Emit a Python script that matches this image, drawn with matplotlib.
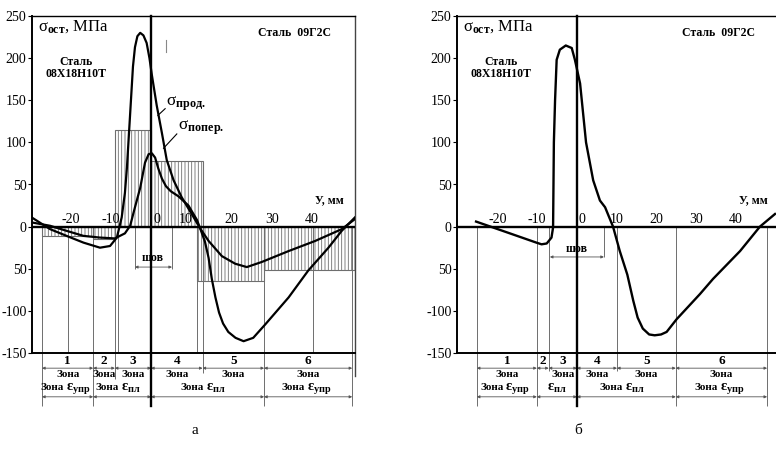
import numpy as np
import matplotlib
matplotlib.use('Agg')
import matplotlib.pyplot as plt

plt.rcParams['font.family'] = ['Liberation Serif', 'DejaVu Serif']
plt.rcParams['mathtext.fontset'] = 'custom'
plt.rcParams['mathtext.rm'] = 'Liberation Serif'
plt.rcParams['mathtext.bf'] = 'Liberation Serif:bold'
plt.rcParams['mathtext.it'] = 'Liberation Serif:italic'
plt.rcParams['mathtext.default'] = 'regular'
plt.rcParams['hatch.linewidth'] = 0.6

# а) сварное соединение 08Х18Н10Т + 09Г2С, расстояние от оси шва, мм
y_prod_a = [-29.7, -25.1, -21.0, -16.8, -12.7, -10.2, -8.5, -7.3, -6.5, -6.0,
            -5.5, -5.0, -4.5, -4.0, -3.4, -2.7, -1.9, -1.1, -0.4, 0.2,
            1.4, 2.7, 3.9, 5.6, 7.6, 10.1, 12.2, 13.4, 14.3, 15.1, 16.0,
            16.9, 17.9, 19.2, 21.0, 23.0, 25.4, 28.4, 34.2, 39.1, 44.1, 47.4, 50.7]
s_prod_a = [11, -3, -11, -19, -25, -23, -13, 11, 40, 70,
            110, 150, 190, 213, 226, 230, 227, 218, 200, 180,
            144, 111, 79, 55, 35, 15, -2, -18, -37, -62, -84,
            -102, -115, -125, -132, -136, -132, -116, -84, -52, -25, -5, 11]

y_pop_a = [-29.7, -25.1, -21.0, -16.8, -12.7, -9.0, -6.5, -5.2, -4.0, -2.7,
           -1.5, -0.6, 0.2, 1.0, 1.8, 2.7, 3.7, 4.9, 6.8, 9.3, 11.4, 12.2,
           14.3, 17.6, 20.9, 23.8, 27.5, 34.2, 40.8, 47.4, 50.7]
s_pop_a = [5, 1, -5, -11, -13, -14, -8, 1, 23, 46,
           76, 86, 87, 82, 69, 57, 48, 42, 36, 25, 8, -2,
           -17, -35, -44, -48, -42, -29, -17, -3, 9]

# средние напряжения по зонам (штриховка)
zone_from_a = [-27.1, -14.4, -9.0, 0.0, 11.4, 28.1]
zone_to_a = [-14.4, -9.0, 0.0, 12.9, 28.1, 50.7]
zone_stress_a = [-11, -15, 115, 78, -64, -52]

# б) продольные напряжения
y_b = [-25.4, -10.2, -8.9, -7.6, -6.4, -6.0, -5.8, -5.5, -5.1, -4.3,
       -2.8, -1.3, -0.5, 0.8, 2.3, 4.1, 5.8, 7.1, 9.1, 10.8,
       12.7, 14.2, 15.3, 16.6, 18.2, 19.6, 21.2, 22.6, 25.1, 31.0, 34.3, 41.1, 46.1, 49.9]
s_b = [6, -19, -21, -20, -13, -1, 100, 150, 198, 210,
       215, 212, 198, 170, 100, 55, 31, 23, 0, -29,
       -57, -88, -108, -121, -128, -129, -128, -125, -110, -80, -62, -29, 0, 15]

# границы зон
zones_a = [-27.1, -14.4, -9.0, 0.0, 12.8, 28.1, 50.0]
modes_a = [-27.1, -14.4, 0.0, 28.1, 50.0]
zones_b = [-25.2, -10.1, -7.1, 0.0, 10.1, 24.9, 47.9]
modes_b = [-25.2, -10.1, 0.0, 24.9, 47.9]

zone_names = ['1', '2', '3', '4', '5', '6']
row_a = ['Зона'] * 6
row_b = ['Зона', '', 'Зона', 'Зона', 'Зона', 'Зона']
mode_word_a = ['Зона', 'Зона', 'Зона', 'Зона']
mode_word_b = ['Зона', '', 'Зона', 'Зона']
mode_sub = ['упр', 'пл', 'пл', 'упр']

stress_ticks = [250, 200, 150, 100, 50, 0, -50, -100, -150]
stress_labels = ['250', '200', '150', '100', '50', '0', '50', '-100', '-150']
dist_ticks = [-20, -10, 0, 10, 20, 30, 40]

GRAY = '#6e6e6e'


def span(ax, x0, x1, y):
    ax.annotate('', xy=(x1, y), xytext=(x0, y), annotation_clip=False,
                arrowprops=dict(arrowstyle='<|-|>', color='#555555', lw=0.6,
                                mutation_scale=4, shrinkA=0, shrinkB=0))


def eps_label(ax, c, y, word, sub):
    eps = '$\\varepsilon_{\\mathbf{%s}}$' % sub
    if word:
        ax.annotate(word, (c, y), xytext=(-2.5, 0.5), textcoords='offset points',
                    fontsize=8, fontweight='bold', ha='right', va='center',
                    annotation_clip=False)
        ax.annotate(eps, (c, y), xytext=(-1, 0), textcoords='offset points',
                    fontsize=10.5, fontweight='bold', ha='left', va='center',
                    annotation_clip=False)
    else:
        ax.annotate(eps, (c, y), xytext=(0, 0), textcoords='offset points',
                    fontsize=10.5, fontweight='bold', ha='center', va='center',
                    annotation_clip=False)


def panel(ax, xlim, nudge):
    ax.set_xlim(xlim)
    ax.set_ylim(-150, 250)
    ax.set_xticks([])
    ax.set_yticks(stress_ticks)
    ax.set_yticklabels(stress_labels, fontsize=10)
    ax.tick_params(axis='y', length=3, width=0.8, pad=1)
    ax.spines['left'].set_linewidth(1.4)
    ax.spines['bottom'].set_linewidth(1.4)
    ax.spines['top'].set_linewidth(1.0)
    ax.spines['right'].set_visible(False)
    ax.axhline(0, color='k', lw=1.7, zorder=4)
    ax.plot([0, 0], [250, -213], color='k', lw=1.7, clip_on=False, zorder=4)
    for v in dist_ticks:
        ax.text(v + nudge.get(v, 0), 9, str(v), ha='center', va='center', fontsize=10)
    ax.text(xlim[0] + 1.4, 237, '$\\sigma_{\\mathbf{ост}}$, МПа', fontsize=12,
            ha='left', va='center')
    ax.text(35.6, 230, 'Сталь  09Г2С', fontsize=8.5, fontweight='bold',
            ha='center', va='center')
    ax.text(xlim[0] + 11, 188, 'Сталь\n08Х18Н10Т', fontsize=8.5, fontweight='bold',
            ha='center', va='center', linespacing=1.0)
    ax.text(44.4, 31, 'У, мм', fontsize=8.5, fontweight='bold', ha='center', va='center')


def zone_marks(ax, zones, modes, row1, words):
    for i, name in enumerate(zone_names):
        c = (zones[i] + zones[i + 1]) / 2
        ax.text(c, -160, name, fontsize=9.5, fontweight='bold', ha='center',
                va='center', clip_on=False)
        span(ax, zones[i], zones[i + 1], -168)
        if row1[i]:
            ax.text(c, -176, row1[i], fontsize=8, fontweight='bold',
                    ha='center', va='center', clip_on=False)
    for i, sub in enumerate(mode_sub):
        c = (modes[i] + modes[i + 1]) / 2
        eps_label(ax, c, -192, words[i], sub)
        span(ax, modes[i], modes[i + 1], -202)


fig = plt.figure(figsize=(7.76, 4.61), dpi=100)
ax_a = fig.add_axes([32 / 776, 108 / 461, 323 / 776, 337 / 461])
ax_b = fig.add_axes([457 / 776, 108 / 461, 320 / 776, 337 / 461])

# ---- а
panel(ax_a, (-29.6, 50.7), {0: 1.5, 10: -1.4})
ax_a.bar(zone_from_a, zone_stress_a, width=np.subtract(zone_to_a, zone_from_a),
         align='edge', facecolor='none', edgecolor=GRAY, hatch='|||||',
         lw=0.8, zorder=1)
ax_a.vlines([-20.6, -8.3, 11.4, 40.3], -150, 0, colors=GRAY, lw=0.7, zorder=1)
ax_a.vlines([-27.1, -14.4, 28.1, 50.0], -213, 0, colors=GRAY, lw=0.7,
            clip_on=False, zorder=1)
ax_a.vlines([-9.0], -181, 0, colors=GRAY, lw=0.7, clip_on=False, zorder=1)
ax_a.vlines([12.9], -174, 0, colors=GRAY, lw=0.7, clip_on=False, zorder=1)
ax_a.plot([50.7, 50.7], [250, -177], color='#444444', lw=1.0, clip_on=False)
ax_a.plot(y_prod_a, s_prod_a, color='k', lw=1.6, zorder=5)
ax_a.plot(y_pop_a, s_pop_a, color='k', lw=1.6, zorder=5)
ax_a.plot([3.7, 3.7], [207, 222], color='#888888', lw=0.8)

ax_a.text(3.6, 146, '$\\sigma_{\\mathbf{прод.}}$', fontsize=12.5, ha='left', va='center')
ax_a.plot([3.5, 1.7], [140, 132], color='k', lw=0.8)
ax_a.text(6.6, 117, '$\\sigma_{\\mathbf{попер.}}$', fontsize=12.5, ha='left', va='center')
ax_a.plot([6.4, 3.1], [110, 93], color='k', lw=0.8)

ax_a.vlines([-4.0, 5.2], -50, 0, colors=GRAY, lw=0.7, zorder=2)
span(ax_a, -4.0, 5.2, -48)
ax_a.text(0.5, -37, 'шов', fontsize=8.5, fontweight='bold', ha='center', va='center')
zone_marks(ax_a, zones_a, modes_a, row_a, mode_word_a)

# ---- б
panel(ax_b, (-30.2, 50.4), {0: 1.3})
ax_b.vlines([-25.2, -10.1, 24.9, 47.9], -213, 0, colors=GRAY, lw=0.7,
            clip_on=False, zorder=1)
ax_b.vlines([-7.1, 10.1], -171, 0, colors=GRAY, lw=0.7, clip_on=False, zorder=1)
ax_b.vlines([6.8], -36, 0, colors=GRAY, lw=0.7, zorder=1)
ax_b.plot(y_b, s_b, color='k', lw=1.7, zorder=5)
span(ax_b, -6.8, 6.8, -36)
ax_b.text(0, -27, 'шов', fontsize=8.5, fontweight='bold', ha='center', va='center')
zone_marks(ax_b, zones_b, modes_b, row_b, mode_word_b)

fig.text(195 / 776, 1 - 430 / 461, 'а', fontsize=11, ha='center', va='center')
fig.text(578 / 776, 1 - 430 / 461, 'б', fontsize=11, ha='center', va='center')

fig.savefig('out.png', dpi=100)
